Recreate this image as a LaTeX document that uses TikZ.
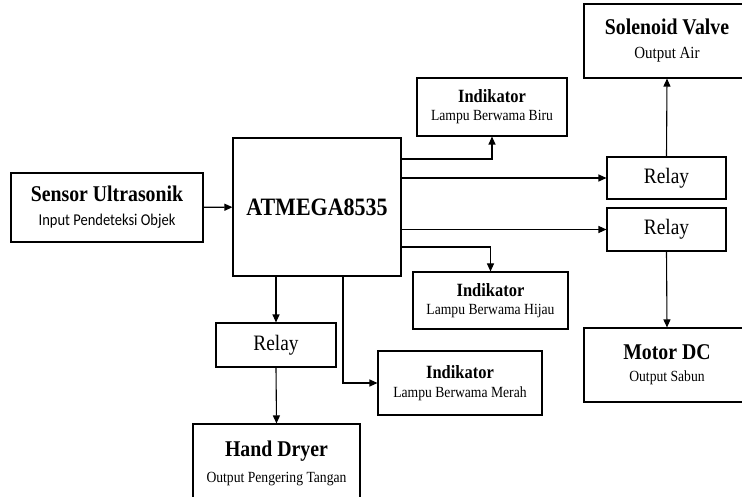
\documentclass[tikz,border=0pt]{standalone}
\usepackage{fontspec}
\setmainfont[FakeStretch=0.88]{Liberation Serif}
\newfontfamily\calfont[FakeStretch=0.88]{Carlito}
\usetikzlibrary{arrows.meta, positioning}

\newcommand{\bigname}[1]{{\fontsize{22.5}{24}\selectfont\bfseries #1}}
\newcommand{\midname}[1]{{\fontsize{18.7}{20}\selectfont\bfseries #1}}
\newcommand{\subname}[1]{{\fontsize{15.5}{17}\selectfont #1}}

\begin{document}
\begin{tikzpicture}[x=1pt, y=-1pt, line width=1.1pt,
    >={Triangle[length=8pt,width=7pt]},
    block/.style={draw, align=center, inner sep=0pt}]
  \useasboundingbox (0,0) rectangle (742,497);
  % left side
  \node [block, minimum width=192, minimum height=69] (sensor) at (107,207.5)
    {\bigname{Sensor Ultrasonik}\\[12pt]{\calfont\fontsize{16.5}{17}\selectfont Input Pendeteksi Objek}};
  \node [block, minimum width=168, minimum height=138] (atmega) at (317,207)
    {{\fontsize{25}{26}\selectfont\bfseries ATMEGA8535}};
  \draw [->] (sensor) -- (atmega);
  % indikator
  \node [block, minimum width=150, minimum height=58] (biru) at (492,107)
    {\midname{Indikator}\\[6pt]\subname{Lampu Berwama Biru}};
  \node [block, minimum width=155, minimum height=57] (hijau) at (490.5,300.5)
    {\midname{Indikator}\\[6pt]\subname{Lampu Berwama Hijau}};
  \node [block, minimum width=164, minimum height=64] (merah) at (460,383)
    {\midname{Indikator}\\[7pt]\subname{Lampu Berwama Merah}};
  % relay
  \node [block, minimum width=119, minimum height=42] (relayA) at (666.5,178)
    {{\fontsize{22}{22}\selectfont Relay}};
  \node [block, minimum width=119, minimum height=43] (relayB) at (666.5,229.5)
    {{\fontsize{22}{22}\selectfont Relay}};
  \node [block, minimum width=120, minimum height=44] (relayC) at (276,345)
    {{\fontsize{22}{22}\selectfont Relay}};
  % output
  \node [block, minimum width=166, minimum height=74] (valve) at (667,41)
    {\bigname{Solenoid Valve}\\[12pt]{\fontsize{17}{18}\selectfont Output Air}};
  \node [block, minimum width=166, minimum height=74] (motor) at (667,365)
    {\bigname{Motor DC}\\[10pt]\subname{Output Sabun}};
  \node [block, minimum width=167, minimum height=78] (dryer) at (276.5,463)
    {\bigname{Hand Dryer}\\[10pt]\subname{Output Pengering Tangan}};
  % connectors
  \draw [->] (atmega.east |- 0,159) -| (biru.south);
  \draw [->] (atmega.east |- relayA.west) -- (relayA.west);
  \draw [->] (atmega.east |- relayB.west) -- (relayB.west);
  \draw [->] (atmega.east |- 0,247) -| (hijau.north);
  \draw [->] (relayA.north) -- (valve.south);
  \draw [->] (relayB.south) -- (motor.north);
  \draw [->] (relayC.north |- atmega.south) -- (relayC.north);
  \draw [->] (relayC.south) -- (dryer.north);
  \draw [->] (343,0 |- atmega.south) |- (merah.west);
\end{tikzpicture}
\end{document}
